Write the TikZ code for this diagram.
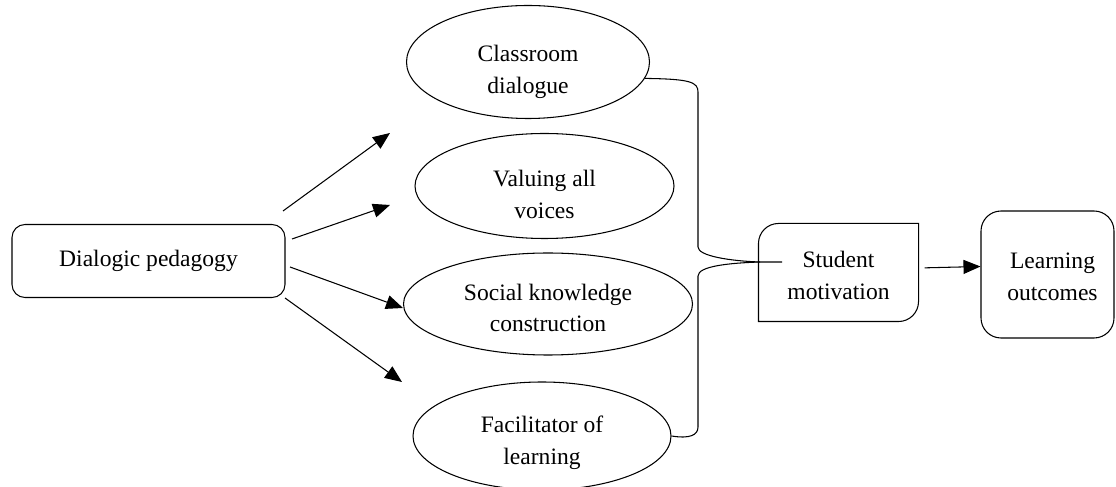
\documentclass[tikz,border=0pt]{standalone}
\usepackage{fontspec}
\setmainfont{Liberation Serif}
\usetikzlibrary{shapes.geometric, arrows.meta}

\begin{document}
\begin{tikzpicture}[
		>={Triangle[length=0.34cm, width=0.28cm]},
		line width=0.6pt,
		every node/.style={font=\fontsize{13.4}{18.1}\selectfont, align=center, inner sep=0pt},
		oval/.style={draw, ellipse},
		roundbox/.style={draw, rounded corners=#1},
	]
		\useasboundingbox (0,0) rectangle (22.32,-9.74);
		
		% Define start
		\node[roundbox=0.26cm, minimum width=5.46cm, minimum height=1.46cm] (Dialogic) at (2.97,-5.22) {Dialogic pedagogy};
		
		% Define 4 ovals, text sits a bit low in each
		\node[oval, minimum width=4.86cm, minimum height=2.26cm,
			label={[yshift=-0.2cm]center:Classroom\\dialogue}] (Dialogue) at (10.56,-1.24) {};
		\node[oval, minimum width=5.18cm, minimum height=2.10cm,
			label={[yshift=-0.17cm]center:Valuing all\\voices}] (Voices) at (10.89,-3.72) {};
		\node[oval, minimum width=5.78cm, minimum height=2.04cm,
			label={[yshift=-0.08cm]center:Social knowledge\\construction}] (Social) at (10.96,-6.08) {};
		\node[oval, minimum width=5.16cm, minimum height=2.16cm,
			label={[yshift=-0.14cm]center:Facilitator of\\learning}] (Facilitator) at (10.84,-8.72) {};
		
		\coordinate (Start1) at (5.66,-4.22);
		\coordinate (End1) at (7.80,-2.66);
		\coordinate (Start2) at (5.84,-4.78);
		\coordinate (End2) at (7.80,-4.10);
		\coordinate (Start3) at (5.80,-5.34);
		\coordinate (End3) at (8.06,-6.16);
		\coordinate (Start4) at (5.70,-5.96);
		\coordinate (End4) at (8.04,-7.64);
		\draw[->] (Start1) -- (End1);
		\draw[->] (Start2) -- (End2);
		\draw[->] (Start3) -- (End3);
		\draw[->] (Start4) -- (End4);
		
		% Define motivation and outcomes
		\node[minimum width=3.18cm, minimum height=1.94cm,
			label={[yshift=-0.06cm]center:Student\\motivation}] (Motivation) at (16.77,-5.45) {};
		\draw ([yshift=-0.4cm]Motivation.north west) arc[start angle=180, end angle=90, radius=0.4cm]
			-- (Motivation.north east) -- ([yshift=0.4cm]Motivation.south east)
			arc[start angle=0, end angle=-90, radius=0.4cm] -- (Motivation.south west) -- cycle;
		\node[roundbox=0.4cm, minimum width=2.66cm, minimum height=2.54cm,
			label={[xshift=0.1cm, yshift=-0.05cm]center:Learning\\outcomes}] (Outcomes) at (20.95,-5.49) {};
		\draw[->, shorten <=0.12cm] ([yshift=0.09cm]Motivation.east) -- ([yshift=0.16cm]Outcomes.west);
		
		% Brace into motivation
		\coordinate (Joint) at (15.2,-5.24);
		\coordinate (JointEnd) at (15.64,-5.24);
		\draw (Dialogue.-8) .. controls (13.8,-1.58) and (13.96,-1.64) .. (13.96,-1.84) -- (13.96,-4.94)
			.. controls (13.96,-5.12) and (14.6,-5.22) .. (Joint) -- (JointEnd);
		\draw (Joint) .. controls (14.6,-5.26) and (13.96,-5.32) .. (13.96,-5.52) -- (13.96,-8.54)
			.. controls (13.96,-8.7) and (13.8,-8.78) .. (Facilitator.east);
		
	\end{tikzpicture}
\end{document}
